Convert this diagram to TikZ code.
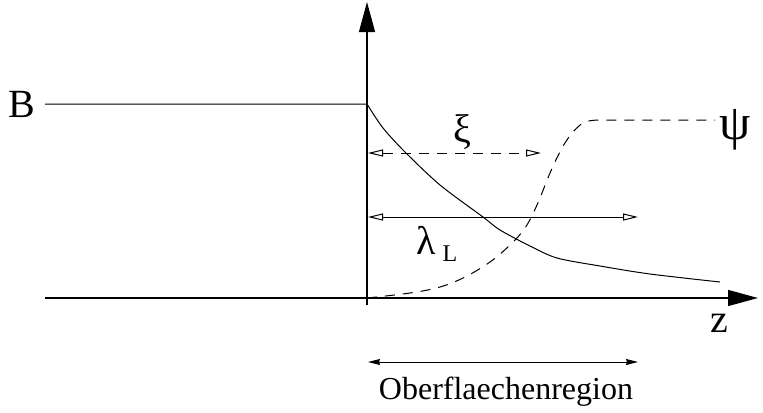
\documentclass[tikz,border=0pt]{standalone}
\usepackage{fontspec}
\setmainfont{Liberation Serif}
\usetikzlibrary{arrows.meta}
\tikzset{
  axisarrow/.style={line width=0.6pt, -{Triangle[length=15pt, width=8pt]}},
  openarrow/.style={line width=0.5pt, {Triangle[open, length=7.5pt, width=3.5pt]}-{Triangle[open, length=7.5pt, width=3.5pt]}},
  regionarrow/.style={line width=0.5pt, {Stealth[length=6pt, width=3pt, inset=0.5pt]}-{Stealth[length=6pt, width=3pt, inset=0.5pt]}},
}
\begin{document}
\begin{tikzpicture}[x=0.5pt, y=-0.5pt, font=\fontsize{16}{19}\selectfont]
            \useasboundingbox (0,0) rectangle (763,412);
            % axes
            \coordinate (o) at (367,298);
            \draw[axisarrow] (367,305) -- (367,2);
            \draw[axisarrow] (45,298) -- (758,298);
            \node (z) at (719,323) {\fontsize{20}{24}\selectfont z};

            % field B
            \node (B) at (22,104) {\fontsize{20}{24}\selectfont B};
            \draw[line width=0.5pt] (45,104) -- (367,104)
                plot[smooth, tension=0.5] coordinates {(367,104) (383,128) (405,152) (440,185) (483,217)
                (500,230) (530,246) (557,258) (600,266) (650,274) (720,282)};

            % order parameter psi
            \draw[dashed, line width=0.5pt, dash pattern=on 5pt off 4pt] plot[smooth, tension=0.6] coordinates {(367,298) (410,293) (440,287)
                (465,277) (490,262) (510,245) (525,228) (537,205) (550,173) (562,148)
                (573,132) (585,122) (600,120)} -- (715,120);
            \node (psi) at (735,130) {\fontsize{25}{29}\selectfont ψ};

            % lengths
            \coordinate (xiL) at (368,153);
            \coordinate (xiR) at (541,153);
            \draw[openarrow, dashed, dash pattern=on 5pt off 4pt] (xiL) -- (xiR);
            \node (xi) at (462,132) {\fontsize{20}{24}\selectfont ξ};

            \coordinate (lamL) at (368,217);
            \coordinate (lamR) at (638,217);
            \draw[openarrow] (lamL) -- (lamR);
            \node (lam) at (437,244) {\fontsize{20}{24}\selectfont λ\,\raisebox{-0.35ex}{\fontsize{12}{14}\selectfont L}};

            % surface region
            \coordinate (regL) at (368,362);
            \coordinate (regR) at (638,362);
            \draw[regionarrow] (regL) -- (regR);
            \node (region) at (506,392) {Oberflaechenregion};
        \end{tikzpicture}
\end{document}
